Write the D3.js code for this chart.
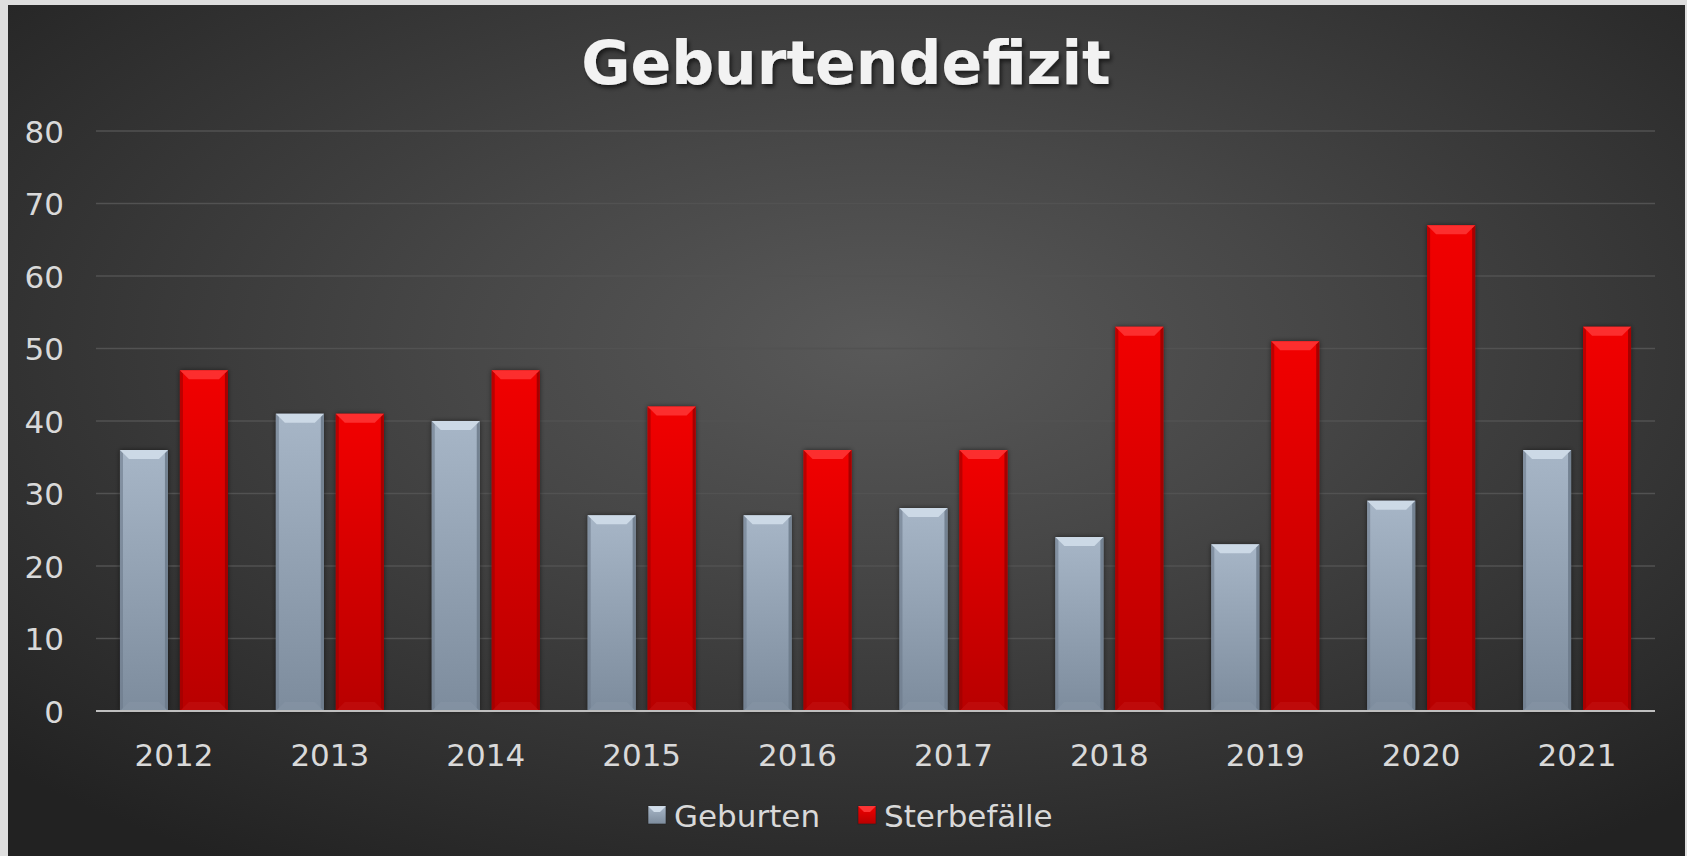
<!DOCTYPE html>
<html>
<head>
<meta charset="utf-8">
<script src="https://cdn.jsdelivr.net/npm/d3@7"></script>
<style>
  body { margin: 0; background: #dedede; }
  svg { display: block; }
  .tick text { font-family: "DejaVu Sans", Verdana, sans-serif; }
</style>
</head>
<body>
<div id="chartCont"></div>
<script>
// values
const years = ["2012", "2013", "2014", "2015", "2016", "2017", "2018", "2019", "2020", "2021"];
const seriesNames = ["Geburten", "Sterbefälle"];
const geburten = [36, 41, 40, 27, 27, 28, 24, 23, 29, 36];
const sterbefaelle = [47, 41, 47, 42, 36, 36, 53, 51, 67, 53];
const yTicks = [0, 10, 20, 30, 40, 50, 60, 70, 80];

let width = 1687,
  height = 856;

let svg = d3.select("#chartCont")
  .append("svg")
  .attr("width", width)
  .attr("height", height);

let defs = svg.append("defs");

// background radial glow
let bg = defs.append("radialGradient")
  .attr("id", "bgGrad")
  .attr("cx", "52%").attr("cy", "40%").attr("r", "72%");
bg.append("stop").attr("offset", "0%").attr("stop-color", "#595959");
bg.append("stop").attr("offset", "35%").attr("stop-color", "#474747");
bg.append("stop").attr("offset", "100%").attr("stop-color", "#222222");

// bar fills
let colors = {
  "Geburten": { top: "#a7b6c7", bottom: "#7d8c9d", bevelTop: "#d6e2ee", bevelSide: "#6c7a8a", bevelBottom: "#8796a6" },
  "Sterbefälle": { top: "#f20000", bottom: "#b80000", bevelTop: "#ff3a3a", bevelSide: "#9a0000", bevelBottom: "#c41414" }
};
seriesNames.forEach(function(s, i) {
  let g = defs.append("linearGradient")
    .attr("id", "barGrad" + i)
    .attr("x1", 0).attr("y1", 0).attr("x2", 0).attr("y2", 1);
  g.append("stop").attr("offset", "0%").attr("stop-color", colors[s].top);
  g.append("stop").attr("offset", "100%").attr("stop-color", colors[s].bottom);
});

let shadow = defs.append("filter").attr("id", "barShadow")
  .attr("x", "-30%").attr("y", "-10%").attr("width", "160%").attr("height", "120%");
shadow.append("feDropShadow")
  .attr("dx", 0).attr("dy", 0).attr("stdDeviation", 2.5)
  .attr("flood-color", "#000").attr("flood-opacity", 0.55);

let titleShadow = defs.append("filter").attr("id", "titleShadow")
  .attr("x", "-10%").attr("y", "-30%").attr("width", "120%").attr("height", "160%");
titleShadow.append("feDropShadow")
  .attr("dx", 2).attr("dy", 3).attr("stdDeviation", 2)
  .attr("flood-color", "#000").attr("flood-opacity", 0.6);

// chart frame
svg.append("rect")
  .attr("x", 8).attr("y", 5)
  .attr("width", 1677).attr("height", 851)
  .attr("fill", "url(#bgGrad)");

// title
svg.append("text")
  .attr("x", 846)
  .attr("y", 84)
  .attr("text-anchor", "middle")
  .attr("font-family", "'DejaVu Sans', Verdana, sans-serif")
  .attr("font-weight", "bold")
  .attr("font-size", 60)
  .attr("fill", "#f2f2f2")
  .attr("filter", "url(#titleShadow)")
  .text("Geburtendefizit");

// scales
let x0 = d3.scaleBand().domain(years).range([96, 1655]).paddingInner(0).paddingOuter(0);
let x1 = d3.scaleBand().domain(seriesNames).range([0, x0.bandwidth()]).paddingInner(0.2).paddingOuter(0.4);
let y = d3.scaleLinear().domain([0, 80]).range([711, 131]);

// gridlines
svg.append("g")
  .selectAll("line")
  .data(yTicks.filter(function(d) { return d > 0; }))
  .enter().append("line")
  .attr("x1", 96).attr("x2", 1655)
  .attr("y1", function(d) { return y(d); })
  .attr("y2", function(d) { return y(d); })
  .attr("stroke", "#525252")
  .attr("stroke-width", 1.5);

// y axis labels
let yAxis = svg.append("g")
  .attr("transform", "translate(64,0)")
  .call(d3.axisLeft(y).tickValues(yTicks).tickSize(0).tickPadding(0));
yAxis.select(".domain").remove();
yAxis.selectAll("text")
  .attr("font-size", 31)
  .attr("fill", "#d9d9d9")
  .attr("dy", "0.36em");

// bars
let rows = years.map(function(yr, i) {
  return { year: yr, values: [
    { key: "Geburten", idx: 0, value: geburten[i] },
    { key: "Sterbefälle", idx: 1, value: sterbefaelle[i] }
  ] };
});

let bevel = 9, side = 3;

let groups = svg.append("g").selectAll(".year")
  .data(rows)
  .enter().append("g")
  .attr("class", "year")
  .attr("transform", function(d) { return "translate(" + x0(d.year) + ",0)"; });

let bar = groups.selectAll(".bar")
  .data(function(d) { return d.values; })
  .enter().append("g")
  .attr("class", "bar");

bar.append("rect")
  .attr("x", function(d) { return x1(d.key); })
  .attr("y", function(d) { return y(d.value); })
  .attr("width", x1.bandwidth())
  .attr("height", function(d) { return y(0) - y(d.value); })
  .attr("fill", function(d) { return "url(#barGrad" + d.idx + ")"; })
  .attr("filter", "url(#barShadow)");

// bevel facets
function facet(d, which) {
  let l = x1(d.key), r = l + x1.bandwidth(), t = y(d.value), b = y(0);
  if (which === "top") return [[l, t], [r, t], [r - bevel, t + bevel], [l + bevel, t + bevel]];
  if (which === "left") return [[l, t], [l + side, t + side], [l + side, b - side], [l, b]];
  if (which === "right") return [[r, t], [r - side, t + side], [r - side, b - side], [r, b]];
  return [[l, b], [r, b], [r - bevel, b - bevel], [l + bevel, b - bevel]];
}
[["bottom", "bevelBottom", 0.5], ["left", "bevelSide", 0.6], ["right", "bevelSide", 0.85], ["top", "bevelTop", 0.8]].forEach(function(f) {
  bar.append("polygon")
    .attr("points", function(d) { return facet(d, f[0]).join(" "); })
    .attr("fill", function(d) { return colors[d.key][f[1]]; })
    .attr("opacity", f[2]);
});

// x axis line
svg.append("line")
  .attr("x1", 96).attr("x2", 1655)
  .attr("y1", y(0)).attr("y2", y(0))
  .attr("stroke", "#bfbfbf")
  .attr("stroke-width", 2);

// x axis labels
let xAxis = svg.append("g")
  .attr("transform", "translate(0,766)")
  .call(d3.axisBottom(x0).tickSize(0).tickPadding(0));
xAxis.select(".domain").remove();
xAxis.selectAll("text")
  .attr("font-size", 31)
  .attr("fill", "#d9d9d9")
  .attr("dy", 0);

// legend
let legendX = { "Geburten": 648, "Sterbefälle": 858 };
let legend = svg.append("g").selectAll(".legend")
  .data(seriesNames)
  .enter().append("g")
  .attr("class", "legend")
  .attr("transform", function(d) { return "translate(" + legendX[d] + ",806)"; });

legend.append("rect")
  .attr("width", 18).attr("height", 18)
  .attr("fill", function(d, i) { return "url(#barGrad" + i + ")"; })
  .attr("stroke", "#222").attr("stroke-width", 0.6);
legend.append("polygon")
  .attr("points", "0,0 18,0 12,6 6,6")
  .attr("fill", function(d) { return colors[d].bevelTop; })
  .attr("opacity", 0.9);

legend.append("text")
  .attr("x", 26)
  .attr("y", 21)
  .attr("font-family", "'DejaVu Sans', Verdana, sans-serif")
  .attr("font-size", 31)
  .attr("fill", "#d9d9d9")
  .text(function(d) { return d; });
</script>
</body>
</html>
